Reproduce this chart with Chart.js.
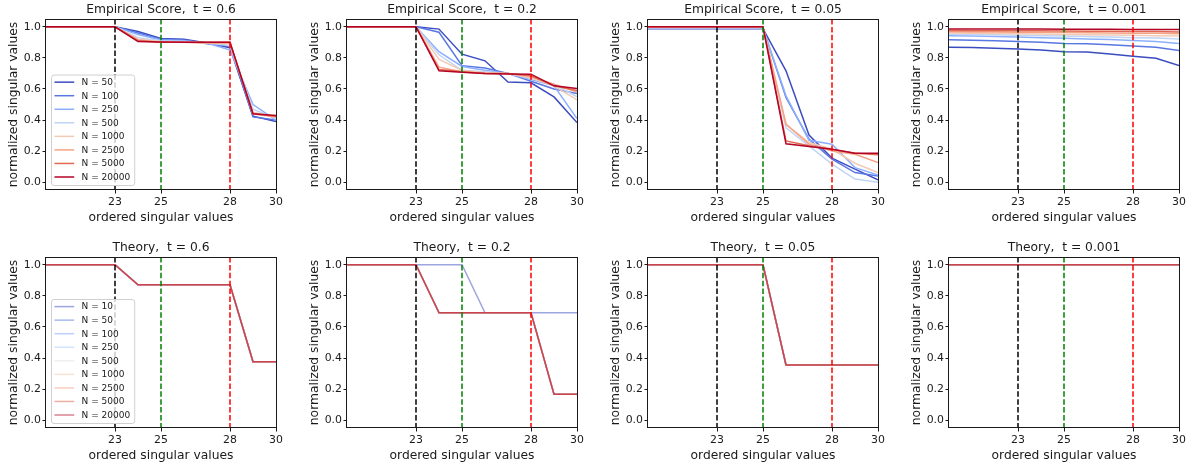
<!DOCTYPE html>
<html>
<head>
<meta charset="utf-8">
<script src="https://cdn.jsdelivr.net/npm/chart.js@4.4.0/dist/chart.umd.min.js"></script>
<style>
  body { margin: 0; background: #fff; width: 1197px; height: 468px; position: relative; overflow: hidden; }
  canvas { position: absolute; }
</style>
</head>
<body>
<canvas id="c0" width="292" height="236"></canvas>
<canvas id="c1" width="292" height="236"></canvas>
<canvas id="c2" width="292" height="236"></canvas>
<canvas id="c3" width="292" height="236"></canvas>
<canvas id="c4" width="292" height="236"></canvas>
<canvas id="c5" width="292" height="236"></canvas>
<canvas id="c6" width="292" height="236"></canvas>
<canvas id="c7" width="292" height="236"></canvas>
<script>
// singular value index (x) and axis ticks
const xValues = [20, 21, 22, 23, 24, 25, 26, 27, 28, 29, 30];
const xTicks = [23, 25, 28, 30];
const yTicks = [0, 0.2, 0.4, 0.6, 0.8, 1.0];
const markerX = [23, 25, 28];
const markerColors = ['#000000', '#008000', '#ff0000'];

const timeLabels = ['0.6', '0.2', '0.05', '0.001'];

const empLabels = ['N = 50', 'N = 100', 'N = 250', 'N = 500', 'N = 1000', 'N = 2500', 'N = 5000', 'N = 20000'];
const empColors = ['#3b4cc0', '#5977e3', '#8db0fe', '#c0d4f5', '#f2cab5', '#f6a385', '#e16852', '#b40426'];

const theoryLabels = ['N = 10', 'N = 50', 'N = 100', 'N = 250', 'N = 500', 'N = 1000', 'N = 2500', 'N = 5000', 'N = 20000'];
const theoryColors = ['rgba(59,76,192,0.5)', 'rgba(86,115,224,0.5)', 'rgba(125,160,249,0.5)', 'rgba(170,199,253,0.5)',
  'rgba(221,221,221,0.5)', 'rgba(245,196,172,0.5)', 'rgba(243,154,123,0.5)', 'rgba(220,93,74,0.5)', 'rgba(180,4,38,0.5)'];

// empirical score, one row per N (same order as empLabels)
const empT06 = [
  [1, 1, 1, 1, 0.97, 0.925, 0.92, 0.895, 0.865, 0.425, 0.39],
  [1, 1, 1, 1, 0.96, 0.92, 0.915, 0.89, 0.875, 0.42, 0.40],
  [1, 1, 1, 1, 0.95, 0.915, 0.91, 0.895, 0.85, 0.50, 0.40],
  [1, 1, 1, 1, 0.93, 0.91, 0.905, 0.895, 0.88, 0.47, 0.41],
  [1, 1, 1, 1, 0.92, 0.905, 0.90, 0.895, 0.89, 0.45, 0.42],
  [1, 1, 1, 1, 0.915, 0.90, 0.90, 0.895, 0.895, 0.44, 0.42],
  [1, 1, 1, 1, 0.91, 0.90, 0.90, 0.90, 0.90, 0.44, 0.425],
  [1, 1, 1, 1, 0.905, 0.902, 0.90, 0.90, 0.90, 0.44, 0.43]
];
const empT02 = [
  [1, 1, 1, 1, 0.985, 0.824, 0.781, 0.644, 0.64, 0.549, 0.384],
  [1, 1, 1, 1, 0.965, 0.75, 0.735, 0.70, 0.65, 0.60, 0.57],
  [1, 1, 1, 1, 0.84, 0.745, 0.72, 0.70, 0.66, 0.62, 0.41],
  [1, 1, 1, 1, 0.82, 0.72, 0.71, 0.70, 0.67, 0.63, 0.55],
  [1, 1, 1, 1, 0.79, 0.72, 0.705, 0.70, 0.67, 0.62, 0.53],
  [1, 1, 1, 1, 0.74, 0.71, 0.70, 0.70, 0.68, 0.63, 0.58],
  [1, 1, 1, 1, 0.725, 0.71, 0.70, 0.70, 0.685, 0.62, 0.59],
  [1, 1, 1, 1, 0.717, 0.708, 0.70, 0.697, 0.695, 0.62, 0.603]
];
const empT005 = [
  [0.988, 0.988, 0.988, 0.988, 0.988, 0.988, 0.717, 0.303, 0.155, 0.084, 0.015],
  [0.99, 0.99, 0.99, 0.99, 0.99, 0.99, 0.545, 0.277, 0.148, 0.062, 0.04],
  [0.99, 0.99, 0.99, 0.99, 0.99, 0.99, 0.556, 0.27, 0.245, 0.094, 0.047],
  [0.995, 0.995, 0.995, 0.995, 0.995, 0.995, 0.35, 0.234, 0.116, 0.02, 0.0],
  [0.995, 0.995, 0.995, 0.995, 0.995, 0.995, 0.373, 0.255, 0.212, 0.122, 0.062],
  [0.997, 0.997, 0.997, 0.997, 0.997, 0.997, 0.373, 0.245, 0.20, 0.18, 0.127],
  [1, 1, 1, 1, 1, 1, 0.266, 0.234, 0.212, 0.187, 0.176],
  [1, 1, 1, 1, 1, 1, 0.247, 0.23, 0.212, 0.187, 0.187]
];
const empT0001 = [
  [0.868, 0.866, 0.862, 0.857, 0.85, 0.84, 0.838, 0.825, 0.81, 0.797, 0.75],
  [0.917, 0.913, 0.91, 0.906, 0.90, 0.893, 0.89, 0.885, 0.877, 0.868, 0.848],
  [0.942, 0.94, 0.938, 0.935, 0.93, 0.926, 0.922, 0.918, 0.912, 0.905, 0.893],
  [0.952, 0.95, 0.948, 0.946, 0.943, 0.94, 0.937, 0.934, 0.93, 0.927, 0.922],
  [0.96, 0.958, 0.957, 0.955, 0.953, 0.951, 0.949, 0.947, 0.945, 0.943, 0.94],
  [0.968, 0.967, 0.966, 0.965, 0.964, 0.963, 0.962, 0.96, 0.959, 0.958, 0.955],
  [0.976, 0.975, 0.975, 0.974, 0.974, 0.973, 0.972, 0.971, 0.97, 0.969, 0.966],
  [0.985, 0.985, 0.985, 0.985, 0.985, 0.984, 0.984, 0.984, 0.983, 0.983, 0.982]
];

// theory curves: identical for every N except N = 10 at t = 0.2
const theoryT06 = [1, 1, 1, 1, 0.871, 0.871, 0.871, 0.871, 0.871, 0.376, 0.376];
const theoryT02 = [1, 1, 1, 1, 0.691, 0.691, 0.691, 0.691, 0.691, 0.167, 0.167];
const theoryT02N10 = [1, 1, 1, 1, 1, 1, 0.691, 0.691, 0.691, 0.691, 0.691];
const theoryT005 = [1, 1, 1, 1, 1, 1, 0.356, 0.356, 0.356, 0.356, 0.356];
const theoryT0001 = [1, 1, 1, 1, 1, 1, 1, 1, 1, 1, 1];

const FONT = '"DejaVu Sans", "Liberation Sans", sans-serif';
const INK = '#1a1a1a';
Chart.defaults.font.family = FONT;
Chart.defaults.color = INK;

const colLeft = [0, 301, 602, 903];
const rowTop = [0, 238];

// dashed reference lines at the marked singular values
const markerLines = {
  id: 'markerLines',
  afterDatasetsDraw(chart) {
    const { ctx, chartArea, scales } = chart;
    ctx.save();
    ctx.lineWidth = 1.5;
    ctx.setLineDash([5.5, 2.4]);
    markerX.forEach((v, i) => {
      const px = scales.x.getPixelForValue(v);
      ctx.strokeStyle = markerColors[i];
      ctx.beginPath();
      ctx.moveTo(px, chartArea.top);
      ctx.lineTo(px, chartArea.bottom);
      ctx.stroke();
    });
    ctx.restore();
  }
};

// boxed legend in the lower left corner of the axes
const cornerLegend = {
  id: 'cornerLegend',
  afterDatasetsDraw(chart, args, opts) {
    if (!opts.show) return;
    const { ctx, chartArea } = chart;
    const sets = chart.data.datasets;
    ctx.save();
    ctx.font = '9px ' + FONT;
    const textW = Math.max(...sets.map(d => ctx.measureText(d.label).width));
    const rowH = 13.55;
    const w = 30.6 + textW + 4;
    const h = rowH * (sets.length - 1) + 15.6;
    const x = chartArea.left + 5;
    const y = chartArea.bottom - 5 - h;
    ctx.beginPath();
    ctx.roundRect(x + 0.5, y + 0.5, w, h, 2.5);
    ctx.fillStyle = 'rgba(255,255,255,0.8)';
    ctx.fill();
    ctx.strokeStyle = '#d0d0d0';
    ctx.lineWidth = 1;
    ctx.stroke();
    sets.forEach((d, i) => {
      const cy = y + 7.6 + i * rowH;
      ctx.strokeStyle = d.borderColor;
      ctx.lineWidth = 1.5;
      ctx.beginPath();
      ctx.moveTo(x + 3.5, cy);
      ctx.lineTo(x + 23.2, cy);
      ctx.stroke();
      ctx.fillStyle = INK;
      ctx.textBaseline = 'middle';
      ctx.fillText(d.label, x + 30.6, cy + 0.5);
    });
    ctx.restore();
  }
};

// full box around the axes
const axesFrame = {
  id: 'axesFrame',
  afterDraw(chart) {
    const { ctx, chartArea } = chart;
    ctx.save();
    ctx.strokeStyle = INK;
    ctx.lineWidth = 1;
    ctx.strokeRect(Math.round(chartArea.left) - 0.5, Math.round(chartArea.top) + 0.5,
      Math.round(chartArea.width) + 1, Math.round(chartArea.height) - 1);
    ctx.restore();
  }
};

function makePanel(index, title, labels, colors, rows, showLegend) {
  const canvas = document.getElementById('c' + index);
  canvas.style.left = colLeft[index % 4] + 'px';
  canvas.style.top = rowTop[Math.floor(index / 4)] + 'px';
  const n = rows.length;
  const datasets = rows.map((vals, i) => ({
    label: labels[i],
    data: vals.map((v, k) => ({ x: xValues[k], y: v })),
    borderColor: colors[i],
    backgroundColor: colors[i],
    borderWidth: 1.5,
    pointRadius: 0,
    tension: 0,
    order: n - i
  }));
  return new Chart(canvas, {
    type: 'line',
    data: { datasets },
    options: {
      responsive: false,
      animation: false,
      events: [],
      layout: { padding: { left: 0, right: 16, top: 0, bottom: 0 } },
      plugins: {
        legend: { display: false },
        tooltip: { enabled: false },
        title: {
          display: true,
          text: title,
          fullSize: false,
          color: INK,
          font: { size: 12.3, weight: 'normal', lineHeight: '15px' },
          padding: { top: 2.5, bottom: 1.5 }
        },
        cornerLegend: { show: showLegend }
      },
      scales: {
        x: {
          type: 'linear',
          min: 20,
          max: 30,
          afterBuildTicks: s => { s.ticks = xTicks.map(v => ({ value: v })); },
          afterFit: s => { s.height = 46; },
          ticks: { autoSkip: false, maxRotation: 0, padding: 2, color: INK, font: { size: 10.9 }, callback: v => String(v) },
          grid: { drawOnChartArea: false, drawTicks: true, tickLength: 3.5, color: INK, lineWidth: 1 },
          border: { display: false },
          title: { display: true, text: 'ordered singular values', color: INK, font: { size: 12.3 }, padding: { top: 0, bottom: 10.5 } }
        },
        y: {
          type: 'linear',
          min: -0.05,
          max: 1.05,
          afterBuildTicks: s => { s.ticks = yTicks.map(v => ({ value: v })); },
          afterFit: s => { s.width = 46; },
          ticks: { padding: 1.5, color: INK, font: { size: 10.9 }, callback: v => v.toFixed(1) },
          grid: { drawOnChartArea: false, drawTicks: true, tickLength: 3.5, color: INK, lineWidth: 1 },
          border: { display: false },
          title: { display: true, text: 'normalized singular values', color: INK, font: { size: 12.3 }, padding: { top: 6.5, bottom: 0 } }
        }
      }
    },
    plugins: [markerLines, cornerLegend, axesFrame]
  });
}

const empRows = [empT06, empT02, empT005, empT0001];
empRows.forEach((rows, i) => {
  makePanel(i, 'Empirical Score,  t = ' + timeLabels[i], empLabels, empColors, rows, i === 0);
});

const theoryRows = [
  theoryLabels.map(() => theoryT06),
  theoryLabels.map((_, k) => (k === 0 ? theoryT02N10 : theoryT02)),
  theoryLabels.map(() => theoryT005),
  theoryLabels.map(() => theoryT0001)
];
theoryRows.forEach((rows, i) => {
  makePanel(4 + i, 'Theory,  t = ' + timeLabels[i], theoryLabels, theoryColors, rows, i === 0);
});
</script>
</body>
</html>
